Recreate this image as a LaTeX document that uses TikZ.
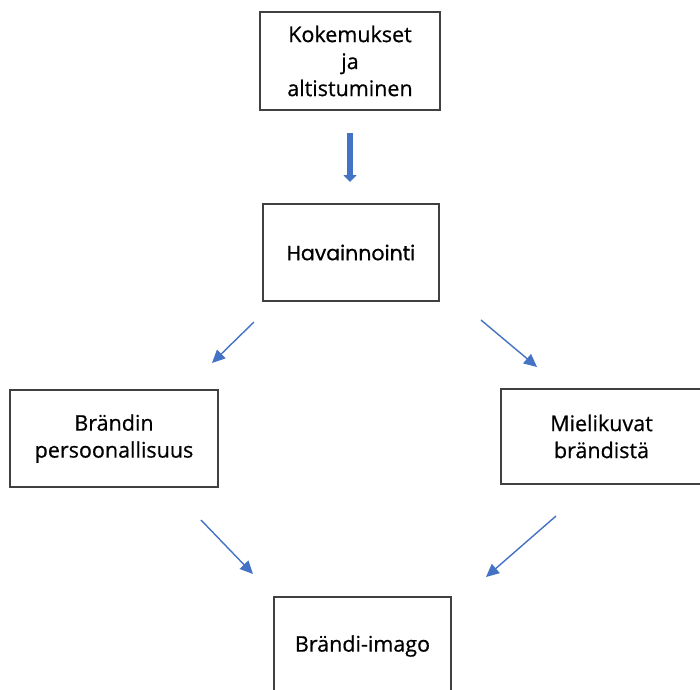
\documentclass[tikz,border=0pt]{standalone}
\usepackage{fontspec}
\setmainfont[FakeBold=0.6]{Open Sans}
\newfontfamily\popfont[FakeBold=0.6]{Poppins}
\usetikzlibrary{arrows.meta}
\definecolor{arrblue}{HTML}{4472C4}
\definecolor{boxline}{HTML}{404040}
\tikzset{
  box/.style={draw=boxline, line width=1.4pt, rectangle, inner sep=0pt, align=center,
    font=\fontsize{21.5}{27}\selectfont, text=black},
  thin arrow/.style={draw=arrblue, line width=1.4pt, -{Triangle[width=12pt,length=13pt]}},
  thick arrow/.style={draw=arrblue, line width=6pt, -{Triangle[width=13pt,length=7pt]}}
}
\begin{document}
\begin{tikzpicture}[x=1pt,y=-1pt]
\useasboundingbox (0,0) rectangle (700,689);
\clip (0,0) rectangle (700,689);
\fill[white] (0,0) rectangle (700,689);
\node[box, minimum width=180pt, minimum height=98pt] (top) at (350,61) {Kokemukset\\ja\\altistuminen};
\node[box, minimum width=176pt, minimum height=97pt, font=\popfont\fontsize{20.5}{27}\selectfont] (hav) at (351,252.5) {Havainnointi};
\node[box, minimum width=208pt, minimum height=97pt] (left) at (114,438.5) {Brändin\\persoonallisuus};
\node[box, minimum width=201pt, minimum height=95pt] (right) at (601.5,436.5) {Mielikuvat\\brändistä};
\node[box, minimum width=177pt, minimum height=98pt] (bottom) at (362.5,646) {Brändi-imago};
\coordinate (t0) at (350,133);
\coordinate (t1) at (350,182);
\coordinate (a2s) at (254,322);
\coordinate (a2e) at (212,363);
\coordinate (a3s) at (481,320);
\coordinate (a3e) at (537,367);
\coordinate (a4s) at (201,520);
\coordinate (a4e) at (253,574);
\coordinate (a5s) at (556,516);
\coordinate (a5e) at (486,577);
\draw[thick arrow] (t0) -- (t1);
\draw[thin arrow] (a2s) -- (a2e);
\draw[thin arrow] (a3s) -- (a3e);
\draw[thin arrow] (a4s) -- (a4e);
\draw[thin arrow] (a5s) -- (a5e);
\end{tikzpicture}
\end{document}
